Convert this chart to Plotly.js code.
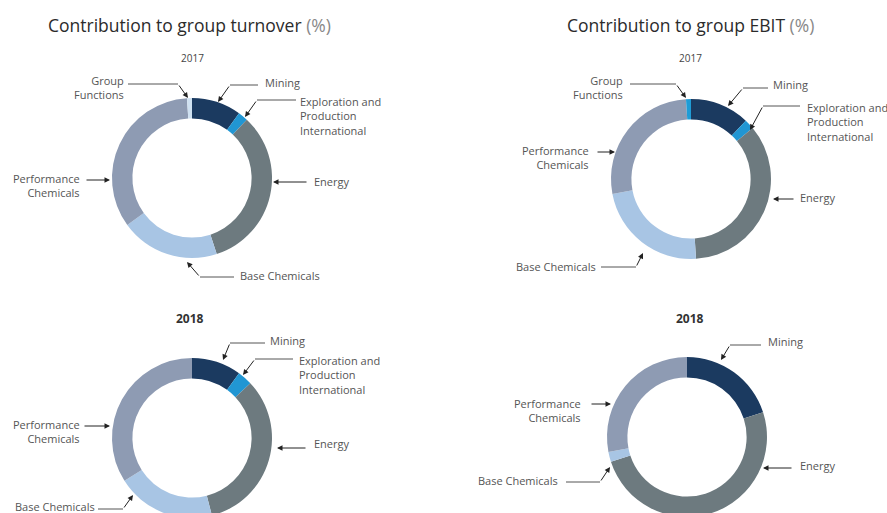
<!DOCTYPE html>
<html>
<head>
<meta charset="utf-8">
<script src="https://cdn.plot.ly/plotly-3.0.1.min.js"></script>
<style>
html,body{margin:0;padding:0;background:#fff;overflow:hidden;}
#chart{width:887px;height:530px;}
</style>
</head>
<body>
<div id="chart"></div>
<script>
// ---- data ----
const segments = ['Mining', 'Exploration and Production International', 'Energy', 'Base Chemicals', 'Performance Chemicals', 'Group Functions'];
const turnover2017 = [10, 2, 33, 20, 34, 1];
const turnover2018 = [10, 3, 33, 20, 34, 0];
const ebit2017 = [12, 2, 35, 23, 27, 1];
const ebit2018 = [20, 0, 50, 2, 28, 0];
const chartTitles = ['Contribution to group turnover', 'Contribution to group EBIT'];
const years = ['2017', '2018'];

// ---- styles ----
const segColors = ['#1b3a60', '#2196d3', '#6d7a7f', '#a8c5e4', '#8e9bb3', '#cfe1f1'];
const segColorsEbit = ['#1b3a60', '#2196d3', '#6d7a7f', '#a8c5e4', '#8e9bb3', '#1f9cd6'];
const W = 887, H = 530;
const px = x => x / W;
const py = y => 1 - y / H;
const R = 80;

function pie(values, cx, cy, colors) {
  return {
    type: 'pie', labels: segments, values: values, sort: false,
    direction: 'clockwise', rotation: 0, hole: 0.745,
    marker: {colors: colors, line: {width: 0}},
    textinfo: 'none', hoverinfo: 'label+percent', showlegend: false,
    domain: {x: [px(cx - R), px(cx + R)], y: [py(cy + R), py(cy - R)]}
  };
}

const data = [
  pie(turnover2017, 192, 178, segColors),
  pie(ebit2017, 691, 179, segColorsEbit),
  pie(turnover2018, 192, 438, segColors),
  pie(ebit2018, 687, 437, segColorsEbit)
];

const disp = {
  'Mining': 'Mining',
  'Exploration and Production International': 'Exploration and<br>Production<br>International',
  'Energy': 'Energy',
  'Base Chemicals': 'Base Chemicals',
  'Performance Chemicals': 'Performance<br>Chemicals',
  'Group Functions': 'Group<br>Functions'
};

const annotations = [];
const shapes = [];
const lblFont = {family: 'Open Sans, sans-serif', size: 11, color: '#555'};

function label(name, x, y, xanchor, yanchor) {
  annotations.push({text: disp[name], x: px(x), y: py(y), xref: 'paper', yref: 'paper',
    xanchor: xanchor, yanchor: yanchor || 'middle', align: xanchor === 'right' ? 'right' : 'left',
    showarrow: false, font: lblFont});
}
function text(t, x, y, font) {
  annotations.push({text: t, x: px(x), y: py(y), xref: 'paper', yref: 'paper',
    xanchor: 'center', yanchor: 'middle', showarrow: false, font: font});
}
function seg(x0, y0, x1, y1) {
  shapes.push({type: 'line', xref: 'paper', yref: 'paper', x0: px(x0), y0: py(y0), x1: px(x1), y1: py(y1),
    line: {color: '#555', width: 1}});
}
function arrow(fx, fy, tx, ty) {
  annotations.push({text: '', x: px(tx), y: py(ty), xref: 'paper', yref: 'paper',
    ax: fx - tx, ay: fy - ty, showarrow: true, arrowhead: 2, arrowsize: 1.1, arrowwidth: 1,
    arrowcolor: '#222', standoff: 0});
}

// titles
const titleFont = {family: 'Open Sans, sans-serif', size: 17.5, color: '#2b2b2b'};
text(chartTitles[0] + ' <span style="color:#888">(%)</span>', 189, 25, titleFont);
text(chartTitles[1] + ' <span style="color:#888">(%)</span>', 690, 25, titleFont);
// years
const yFont = {family: 'Open Sans, sans-serif', size: 10, color: '#444'};
const yFontB = {family: 'Open Sans, sans-serif', size: 12, color: '#333'};
text(years[0], 192, 58, yFont);
text(years[0], 690, 58, yFont);
text('<b>' + years[1] + '</b>', 190, 318, yFontB);
text('<b>' + years[1] + '</b>', 690, 318, yFontB);

// Turnover 2017
label('Group Functions', 126, 87.5, 'right');
seg(128, 84, 178, 84); arrow(178, 84, 188, 98);
label('Mining', 263, 83, 'left');
seg(258, 85, 230, 85); arrow(230, 85, 218, 102);
label('Exploration and Production International', 298, 92, 'left', 'top');
seg(296, 100, 257, 100); arrow(257, 100, 245, 117);
label('Energy', 312, 182, 'left');
arrow(308, 182, 273, 182);
label('Performance Chemicals', 82, 185, 'right');
arrow(85, 180, 110, 180);
label('Base Chemicals', 238, 275, 'left');
seg(234, 277, 200, 277); arrow(200, 277, 187, 262);

// EBIT 2017
label('Group Functions', 625, 87.5, 'right');
seg(630, 84, 676, 84); arrow(676, 84, 686, 98);
label('Mining', 771, 85, 'left');
seg(768, 88, 743, 88); arrow(743, 88, 728, 106);
label('Exploration and Production International', 805, 98, 'left', 'top');
seg(800, 106, 763, 106); arrow(763, 106, 750, 130);
label('Energy', 798, 197, 'left');
arrow(795, 199, 773, 199);
label('Performance Chemicals', 591, 157, 'right');
arrow(596, 152, 615, 152);
label('Base Chemicals', 598, 266, 'right');
seg(601, 267, 636, 267); arrow(636, 267, 643, 253);

// Turnover 2018
label('Mining', 268, 340, 'left');
seg(265, 343, 230, 343); arrow(230, 343, 223, 360);
label('Exploration and Production International', 297, 351, 'left', 'top');
seg(293, 359, 255, 359); arrow(255, 359, 243, 375);
label('Energy', 312, 443, 'left');
arrow(307, 448, 277, 448);
label('Performance Chemicals', 82, 431, 'right');
arrow(83, 426, 110, 426);
label('Base Chemicals', 13, 506, 'left');
seg(98, 509, 123, 509); arrow(123, 509, 133, 495);

// EBIT 2018
label('Mining', 766, 341, 'left');
seg(761, 345, 730, 345); arrow(730, 345, 721, 360);
label('Energy', 798, 465, 'left');
arrow(793, 468, 763, 468);
label('Performance Chemicals', 583, 410, 'right');
arrow(590, 404, 611, 404);
label('Base Chemicals', 560, 480, 'right');
seg(566, 482, 600, 482); arrow(600, 482, 610, 467);

const layout = {
  width: W, height: H,
  margin: {l: 0, r: 0, t: 0, b: 0},
  paper_bgcolor: '#fff', plot_bgcolor: '#fff',
  showlegend: false,
  annotations: annotations,
  shapes: shapes
};

Plotly.newPlot('chart', data, layout, {displayModeBar: false, staticPlot: true});
</script>
</body>
</html>
